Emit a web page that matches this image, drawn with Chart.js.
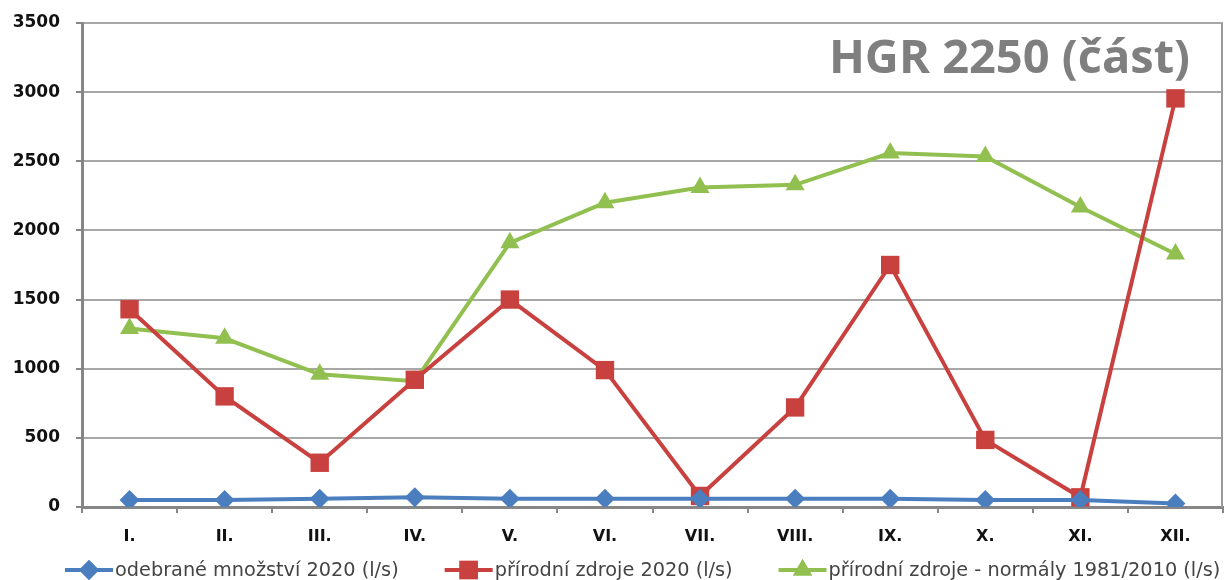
<!DOCTYPE html>
<html>
<head>
<meta charset="utf-8">
<script src="https://cdn.jsdelivr.net/npm/chart.js@4/dist/chart.umd.min.js"></script>
<style>
  html, body { margin: 0; padding: 0; background: #fff; }
  #wrap { width: 1224px; height: 580px; }
</style>
</head>
<body>
<div id="wrap"><canvas id="hgrChart" width="1224" height="580"></canvas></div>
<script>
// months (roman numerals)
const months = ["I.", "II.", "III.", "IV.", "V.", "VI.", "VII.", "VIII.", "IX.", "X.", "XI.", "XII."];

// series values in l/s
const odebrane2020 = [50, 50, 60, 70, 60, 60, 60, 60, 60, 50, 50, 25];
const prirodni2020 = [1430, 800, 320, 920, 1500, 990, 80, 720, 1750, 485, 70, 2955];
const normaly = [1290, 1220, 960, 910, 1910, 2200, 2310, 2330, 2560, 2535, 2170, 1830];

const seriesNames = [
    "odebrané množství 2020 (l/s)",
    "přírodní zdroje 2020 (l/s)",
    "přírodní zdroje - normály 1981/2010 (l/s)"
];
const chartTitle = "HGR 2250 (část)";

const BLUE = "#4a7ebf";
const RED = "#c8413f";
const GREEN = "#92c050";

// title in the top right corner + right border of the plot
const decorPlugin = {
    id: "decor",
    afterDraw(chart) {
        const c = chart.ctx;
        const a = chart.chartArea;
        c.save();
        c.strokeStyle = "#9a9a9a";
        c.lineWidth = 2;
        c.beginPath();
        c.moveTo(a.right - 1, a.top);
        c.lineTo(a.right - 1, a.bottom);
        c.stroke();

        c.fillStyle = "#7f7f7f";
        c.font = "bold 47px 'Open Sans'";
        c.textAlign = "right";
        c.textBaseline = "alphabetic";
        c.fillText(chartTitle, a.right - 33, 73, 368);
        c.restore();
    }
};

// legend: short line with the marker in the middle, then the text
const lineLegend = {
    id: "lineLegend",
    afterDraw(chart) {
        const c = chart.ctx;
        c.save();
        c.font = "19.3px 'DejaVu Sans'";
        c.textBaseline = "middle";
        let x = 65;
        const y = 570;
        chart.data.datasets.forEach(ds => {
            c.strokeStyle = ds.borderColor;
            c.lineWidth = 4;
            c.beginPath();
            c.moveTo(x, y);
            c.lineTo(x + 48, y);
            c.stroke();
            c.fillStyle = ds.borderColor;
            Chart.helpers.drawPoint(c, {
                pointStyle: ds.pointStyle,
                radius: ds.pointRadius,
                borderWidth: 0
            }, x + 24, y);
            c.fill();
            c.fillStyle = "#444";
            c.fillText(ds.label, x + 50, y + 1);
            x += 50 + c.measureText(ds.label).width + 46;
        });
        c.restore();
    }
};

new Chart(document.getElementById("hgrChart"), {
    type: "line",
    data: {
        labels: months,
        datasets: [
            {
                label: seriesNames[0],
                data: odebrane2020,
                borderColor: BLUE,
                backgroundColor: BLUE,
                borderWidth: 4,
                pointStyle: "rectRot",
                pointRadius: 10,
                pointBorderWidth: 0,
                tension: 0
            },
            {
                label: seriesNames[1],
                data: prirodni2020,
                borderColor: RED,
                backgroundColor: RED,
                borderWidth: 4,
                pointStyle: "rect",
                pointRadius: 13,
                pointBorderWidth: 0,
                tension: 0
            },
            {
                label: seriesNames[2],
                data: normaly,
                borderColor: GREEN,
                backgroundColor: GREEN,
                borderWidth: 4,
                pointStyle: "triangle",
                pointRadius: 11,
                pointBorderWidth: 0,
                tension: 0
            }
        ]
    },
    options: {
        responsive: false,
        animation: false,
        layout: { autoPadding: false, padding: { top: 23, right: 1, left: 0, bottom: 0 } },
        plugins: {
            legend: { display: false },
            tooltip: { enabled: false }
        },
        scales: {
            x: {
                offset: true,
                grid: {
                    offset: true,
                    drawOnChartArea: false,
                    drawTicks: true,
                    tickLength: 6,
                    color: "#868686",
                    lineWidth: 2
                },
                border: { color: "#868686", width: 3 },
                ticks: {
                    color: "#111",
                    font: { family: "DejaVu Sans", size: 16, weight: "bold" },
                    padding: 14
                },
                afterFit(scale) {
                    scale.height = 73;
                    scale.paddingLeft = 0;
                    scale.paddingRight = 0;
                }
            },
            y: {
                min: 0,
                max: 3500,
                ticks: {
                    stepSize: 500,
                    color: "#111",
                    font: { family: "DejaVu Sans", size: 17, weight: "bold" },
                    padding: 16,
                    callback: v => String(v)
                },
                grid: {
                    color: "#a8a8a8",
                    lineWidth: 2,
                    tickLength: 6,
                    tickColor: "#868686"
                },
                border: { color: "#868686", width: 3 },
                afterFit(scale) {
                    scale.width = 82;
                    scale.paddingTop = 0;
                    scale.paddingBottom = 0;
                }
            }
        }
    },
    plugins: [decorPlugin, lineLegend]
});
</script>
</body>
</html>
